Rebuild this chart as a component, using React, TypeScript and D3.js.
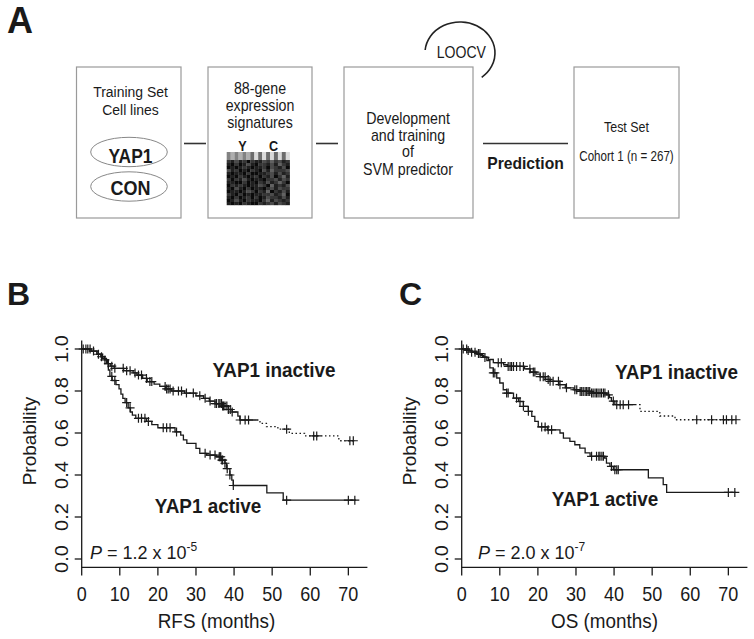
import * as d3 from 'd3'

const FONT = '"Liberation Sans", Arial, Helvetica, sans-serif'
const INK = '#1a1a1a'

// ── Kaplan-Meier data (months, survival probability) ──────────────────────────
const RFS_INACTIVE_STEPS: [number, number][] = [
  [0, 1], [2.5, 0.99], [4, 0.975], [5, 0.963], [6, 0.948], [6.8, 0.93], [7.5, 0.918],
  [8.5, 0.908], [11, 0.897], [13.5, 0.886], [14.5, 0.876], [16, 0.86], [17.2, 0.845],
  [19, 0.833], [20.5, 0.822], [22, 0.81], [23.5, 0.8], [27, 0.79], [30, 0.777],
  [32, 0.765], [33.5, 0.752], [35, 0.74], [37, 0.728], [38.5, 0.712], [39.5, 0.7],
  [41, 0.68], [41.5, 0.662], [46.8, 0.646], [48.5, 0.63], [51.5, 0.618], [54.5, 0.598],
  [58.5, 0.586], [67.5, 0.563],
]
const RFS_INACTIVE_CENSOR = [
  0.4, 1.1, 1.6, 2.2, 3.1, 4.4, 5.2, 6.1, 7.0, 7.9, 8.7, 10.9, 11.8, 12.7, 14.0, 14.9,
  15.7, 17.0, 17.9, 18.4, 21.9, 22.3, 22.7, 23.2, 24.0, 25.4, 26.2, 27.5, 29.3, 31.0,
  32.4, 33.7, 35.0, 35.4, 36.0, 36.3, 36.7, 37.0, 37.2, 37.6, 38.1, 38.5, 39.0, 39.5,
  41.6, 42.9, 43.8, 53.8, 60.9, 61.7, 70.4, 71.3,
]
const RFS_ACTIVE_STEPS: [number, number][] = [
  [0, 1], [2, 0.99], [4, 0.975], [5.5, 0.955], [6.5, 0.93], [7, 0.9], [7.4, 0.87],
  [8, 0.85], [9, 0.83], [9.8, 0.81], [10.3, 0.785], [10.8, 0.765], [11.4, 0.745],
  [12.2, 0.72], [12.8, 0.7], [13.3, 0.685], [14.2, 0.67], [17, 0.655], [18.4, 0.64],
  [20, 0.625], [24.5, 0.605], [26, 0.59], [26.7, 0.567], [27.6, 0.551], [30, 0.527],
  [31, 0.503], [32.8, 0.495], [35.4, 0.487], [36.8, 0.471], [37.6, 0.456], [38, 0.43],
  [38.9, 0.4], [39.4, 0.376], [39.8, 0.35], [48.6, 0.315], [52.9, 0.28],
]
const RFS_ACTIVE_CENSOR = [
  7.9, 8.7, 11.8, 12.7, 14.9, 15.7, 16.6, 17.5, 21.4, 22.3, 23.2, 24.9, 32.4, 33.7, 35,
  36.1, 36.3, 36.5, 36.8, 37, 37.6, 38.2, 38.9, 39.8, 53.8, 70, 71.7,
]

const OS_INACTIVE_STEPS: [number, number][] = [
  [0, 1], [1.5, 0.993], [2.5, 0.985], [3.9, 0.978], [5, 0.968], [5.8, 0.96], [7, 0.95],
  [8.3, 0.935], [11, 0.925], [12, 0.917], [16.5, 0.905], [18, 0.89], [19.5, 0.88],
  [20.6, 0.868], [22, 0.855], [23.2, 0.846], [25.5, 0.83], [27.2, 0.815], [29.5, 0.806],
  [31, 0.798], [34, 0.79], [38, 0.782], [38.8, 0.768], [39.3, 0.752], [40.2, 0.735],
  [46.8, 0.703], [52, 0.681], [56, 0.663],
]
const OS_INACTIVE_CENSOR = [
  0.4, 1.3, 1.7, 2.6, 3.5, 4.4, 4.8, 6.1, 9.6, 10.4, 12.2, 12.7, 13.1, 13.6, 14.4, 15.3,
  16.2, 17.9, 18.8, 19.2, 20.6, 21.4, 21.9, 22.7, 23.2, 24, 25.4, 25.8, 27.5, 29.7, 30.2,
  31.1, 31.5, 31.9, 32.4, 32.8, 33.2, 33.6, 34.1, 34.5, 35, 35.4, 35.8, 36.3, 36.7, 37.2,
  37.6, 38.5, 39.8, 40.7, 41.6, 42.4, 43.8, 61.7, 65.6, 68.7, 69.5, 70.9, 72,
]
const OS_ACTIVE_STEPS: [number, number][] = [
  [0, 1], [2, 0.99], [4, 0.975], [5.5, 0.962], [6.6, 0.945], [7.4, 0.91], [8.3, 0.886],
  [9.2, 0.862], [10, 0.838], [10.9, 0.806], [11.8, 0.79], [13.6, 0.766], [14.9, 0.75],
  [16.2, 0.727], [17.5, 0.703], [18.4, 0.679], [19.2, 0.655], [20.1, 0.629],
  [22.5, 0.615], [25.8, 0.6], [26.7, 0.576], [28.4, 0.56], [29.7, 0.544], [31, 0.528],
  [32.4, 0.505], [33.7, 0.489], [37.5, 0.481], [38, 0.457], [38.9, 0.441], [39.8, 0.425],
  [49, 0.386], [52.9, 0.354], [53.8, 0.317],
]
const OS_ACTIVE_CENSOR = [
  8.3, 8.7, 11.8, 12.2, 14.4, 15.3, 16.2, 17.5, 21, 21.9, 22.7, 23.6, 34.1, 35.4, 36,
  36.3, 36.8, 37.2, 39.3, 40.2, 40.7, 41.1, 70, 71.7,
]

const MONTH_TICKS = [0, 10, 20, 30, 40, 50, 60, 70]
const PROB_TICKS = [0, 0.2, 0.4, 0.6, 0.8, 1.0]

// heatmap thumbnail in panel A (grey levels 0-9)
const HEAT_ROWS = [
  '2131202113242312',
  '1020131022131421',
  '0101210112032130',
  '3120102103142223',
  '1011020011231312',
  '0102101202130241',
  '2021310110223132',
  '1100201021312420',
  '0212101132041213',
  '1031020110231322',
  '0110132021402131',
  '2102010112231240',
  '1020120201322131',
  '0131021102413212',
  '1010210021231321',
]
const HEAT_STRIP = '5757574949494949'

function survAt(steps: [number, number][], t: number) {
  let s = steps[0][1]
  for (const [tt, v] of steps) {
    if (tt <= t) s = v
    else break
  }
  return s
}

// text squeezed horizontally, like the source figure
function T(props: {
  x: number; y: number; size: number; sx?: number; bold?: boolean
  anchor?: 'start' | 'middle' | 'end'; children: any
}) {
  const { x, y, size, sx = 0.9, bold, anchor = 'middle' } = props
  return (
    <text transform={`translate(${x},${y}) scale(${sx},1)`} fontSize={size}
      fontWeight={bold ? 700 : 400} textAnchor={anchor}>
      {props.children}
    </text>
  )
}

type Curve = {
  steps: [number, number][]
  censor: number[]
  end: number
  dotFrom?: number
}

function KMPanel(props: {
  left: number
  letter: string
  letterX: number
  xLabel: string
  xLabelX: number
  pText: string
  pExp: string
  pX: number
  inactive: Curve
  active: Curve
  inactiveLabel: [number, number]
  activeLabel: [number, number]
}) {
  const { left } = props
  const x = d3.scaleLinear().domain([0, 75]).range([left, left + 285.7])
  const y = d3.scaleLinear().domain([-0.04, 1.04]).range([567.4, 340.6])
  const line = d3.line<[number, number]>()
    .x(d => x(d[0])).y(d => y(d[1]))
    .curve(d3.curveStepAfter)

  const paths = (c: Curve) => {
    const last = c.steps[c.steps.length - 1][1]
    if (c.dotFrom == null) {
      return [{ d: line([...c.steps, [c.end, last]]), dotted: false }]
    }
    const cut = c.dotFrom
    const a: [number, number][] = [...c.steps.filter(p => p[0] <= cut), [cut, survAt(c.steps, cut)]]
    const b: [number, number][] = [[cut, survAt(c.steps, cut)], ...c.steps.filter(p => p[0] > cut), [c.end, last]]
    return [{ d: line(a), dotted: false }, { d: line(b), dotted: true }]
  }

  const marks = (c: Curve) =>
    c.censor.map((t, i) => {
      const cx = x(t)
      const cy = y(survAt(c.steps, t))
      return (
        <path key={i} d={`M${cx - 4.5},${cy}H${cx + 4.5}M${cx},${cy - 4.5}V${cy + 4.5}`}
          stroke={INK} strokeWidth={1.2} fill="none" />
      )
    })

  const x0 = x(0)
  const yBottom = y(-0.04)

  return (
    <g fontFamily={FONT} fill={INK}>
      <text x={props.letterX} y={305} fontSize={32} fontWeight={700}>{props.letter}</text>

      {/* axes frame (L) */}
      <path d={`M${x0},${y(1.04)}V${yBottom}H${x(75)}`} stroke={INK} strokeWidth={1.3} fill="none" />
      {MONTH_TICKS.map(t => (
        <g key={t}>
          <line x1={x(t)} x2={x(t)} y1={yBottom} y2={yBottom + 8} stroke={INK} strokeWidth={1.3} />
          <T x={x(t)} y={601} size={20}>{t}</T>
        </g>
      ))}
      {PROB_TICKS.map(p => (
        <g key={p}>
          <line x1={x0 - 7} x2={x0} y1={y(p)} y2={y(p)} stroke={INK} strokeWidth={1.3} />
          <text transform={`translate(${x0 - 14},${y(p)}) rotate(-90) scale(1,0.92)`} fontSize={20} textAnchor="middle">
            {p.toFixed(1)}
          </text>
        </g>
      ))}
      <text transform={`translate(${x0 - 46},${441}) rotate(-90) scale(1,0.92)`} fontSize={19} textAnchor="middle">Probability</text>
      <T x={props.xLabelX} y={628} size={21}>{props.xLabel}</T>

      {/* curves */}
      {[props.inactive, props.active].map((c, i) =>
        paths(c).map((p, j) => (
          <path key={`${i}-${j}`} d={p.d ?? ''} fill="none" stroke={INK} strokeWidth={1.3}
            strokeDasharray={p.dotted ? '1.5,2.5' : undefined} />
        )),
      )}
      {marks(props.inactive)}
      {marks(props.active)}

      <T x={props.inactiveLabel[0]} y={props.inactiveLabel[1]} size={21} bold>YAP1 inactive</T>
      <T x={props.activeLabel[0]} y={props.activeLabel[1]} size={21} bold>YAP1 active</T>

      <text x={props.pX} y={559} fontSize={18}>
        <tspan fontStyle="italic">P</tspan>
        <tspan>{' = ' + props.pText + ' x 10'}</tspan>
        <tspan fontSize={12} dy={-8}>{props.pExp}</tspan>
      </text>
    </g>
  )
}

function Flowchart() {
  const boxStroke = '#9a9a9a'
  const boxes = [
    [76.5, 181], [208, 312], [344, 473], [574, 679],
  ]
  const cellW = 63 / HEAT_STRIP.length
  const cellH = 45 / HEAT_ROWS.length
  return (
    <g fontFamily={FONT} fill={INK}>
      <text x={7} y={33} fontSize={36} fontWeight={700}>A</text>

      {boxes.map(([a, b], i) => (
        <rect key={i} x={a} y={67} width={b - a} height={151} fill="#fff" stroke={boxStroke} strokeWidth={1.2} />
      ))}

      {/* connectors */}
      <line x1={184} x2={206} y1={143.5} y2={143.5} stroke="#333" strokeWidth={1.6} />
      <line x1={316} x2={338} y1={143.5} y2={143.5} stroke="#333" strokeWidth={1.6} />
      <line x1={483} x2={568} y1={143.5} y2={143.5} stroke="#333" strokeWidth={1.6} />
      <T x={525.5} y={168.5} size={16} sx={0.98} bold>Prediction</T>

      {/* box 1 */}
      <T x={130.5} y={96.5} size={15.5}>Training Set</T>
      <T x={130.5} y={114.5} size={15.5}>Cell lines</T>
      <ellipse cx={129} cy={152} rx={38.3} ry={14.7} fill="#fff" stroke="#888" strokeWidth={1} />
      <T x={130.5} y={163.3} size={20} sx={0.87} bold>YAP1</T>
      <ellipse cx={129} cy={186.5} rx={38.3} ry={14.7} fill="#fff" stroke="#888" strokeWidth={1} />
      <T x={130.5} y={195} size={20} sx={0.9} bold>CON</T>

      {/* box 2 */}
      <T x={260} y={93.5} size={15.8}>88-gene</T>
      <T x={260} y={110.5} size={15.8}>expression</T>
      <T x={260} y={127.5} size={15.8}>signatures</T>
      <T x={242.5} y={151} size={14} bold>Y</T>
      <T x={273.5} y={151} size={14} bold>C</T>
      {HEAT_STRIP.split('').map((v, c) => (
        <rect key={`s${c}`} x={226.7 + c * cellW} y={152} width={cellW + 0.2} height={8}
          fill={d3.rgb(+v * 22 + 20, +v * 22 + 20, +v * 22 + 20).toString()} />
      ))}
      {HEAT_ROWS.map((row, r) =>
        row.split('').map((v, c) => (
          <rect key={`${r}-${c}`} x={226.7 + c * cellW} y={160 + r * cellH} width={cellW + 0.2} height={cellH + 0.2}
            fill={d3.rgb(+v * 22 + 10, +v * 22 + 10, +v * 22 + 10).toString()} />
        )),
      )}

      {/* box 3 */}
      <T x={408} y={124} size={15.8}>Development</T>
      <T x={408} y={140.7} size={15.8}>and training</T>
      <T x={408} y={157.3} size={15.8}>of</T>
      <T x={408} y={175} size={15.8}>SVM predictor</T>

      {/* LOOCV loop */}
      <path
        d={(() => {
          const cx = 460, cy = 53, rx = 35, ry = 31
          const t0 = (185.6 * Math.PI) / 180
          const t1 = (411.7 * Math.PI) / 180
          return `M${cx + rx * Math.cos(t0)},${cy + ry * Math.sin(t0)}A${rx},${ry} 0 1 1 ${cx + rx * Math.cos(t1)},${cy + ry * Math.sin(t1)}`
        })()}
        fill="none" stroke="#222" strokeWidth={1.6}
      />
      <T x={461.3} y={58.3} size={16} sx={0.88}>LOOCV</T>

      {/* box 4 */}
      <T x={626.5} y={131.7} size={14.5} sx={0.86}>Test Set</T>
      <T x={626.5} y={161} size={14.5} sx={0.8}>Cohort 1 (n = 267)</T>
    </g>
  )
}

export default function App() {
  return (
    <svg width={754} height={639} style={{ position: 'absolute', left: 0, top: 0, background: '#fff' }}>
      <rect width={754} height={639} fill="#fff" />
      <Flowchart />
      <KMPanel
        left={81.7} letter="B" letterX={7} xLabel="RFS (months)" xLabelX={216.5}
        pText="1.2" pExp="-5" pX={90}
        inactive={{ steps: RFS_INACTIVE_STEPS, censor: RFS_INACTIVE_CENSOR, end: 72, dotFrom: 46 }}
        active={{ steps: RFS_ACTIVE_STEPS, censor: RFS_ACTIVE_CENSOR, end: 72 }}
        inactiveLabel={[274, 377.3]} activeLabel={[208, 513]}
      />
      <KMPanel
        left={461.7} letter="C" letterX={399} xLabel="OS (months)" xLabelX={604.5}
        pText="2.0" pExp="-7" pX={478}
        inactive={{ steps: OS_INACTIVE_STEPS, censor: OS_INACTIVE_CENSOR, end: 72, dotFrom: 45.5 }}
        active={{ steps: OS_ACTIVE_STEPS, censor: OS_ACTIVE_CENSOR, end: 72 }}
        inactiveLabel={[676.5, 379]} activeLabel={[605, 506]}
      />
    </svg>
  )
}
